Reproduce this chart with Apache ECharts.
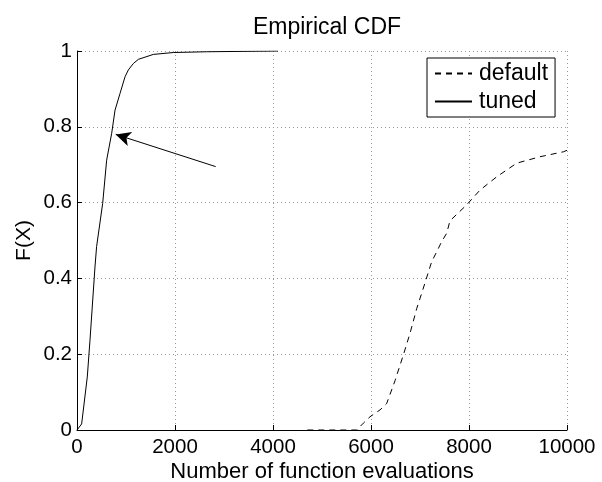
<!DOCTYPE html>
<html>
<head>
<meta charset="utf-8">
<script src="https://cdn.jsdelivr.net/npm/echarts@6/dist/echarts.min.js"></script>
<style>html,body{margin:0;padding:0;background:#fff}#c{width:602px;height:482px}</style>
</head>
<body>
<div id="c"></div>
<script>
var titleText = 'Empirical CDF';
var xName = 'Number of function evaluations';
var yName = 'F(X)';
var seriesNames = ['default', 'tuned'];
var xTicks = [0, 2000, 4000, 6000, 8000, 10000];
var yTicks = [0, 0.2, 0.4, 0.6, 0.8, 1];

var xTuned = [0, 95, 210, 265, 367, 400, 524, 605, 708, 776, 878, 980, 1048, 1150, 1252, 1558, 1966, 2640, 4100];
var yTuned = [0, 0.016, 0.14, 0.237, 0.43, 0.484, 0.598, 0.712, 0.783, 0.844, 0.888, 0.932, 0.95, 0.967, 0.978, 0.991, 0.996, 0.998, 1.0];

var xDefault = [4700, 5707, 5844, 5980, 6184, 6320, 6490, 6660, 6796, 6932, 7082, 7238, 7340, 7442, 7544, 7612, 7782, 7952, 8224, 8565, 8973, 9449, 9925, 10000];
var yDefault = [0, 0, 0.018, 0.035, 0.053, 0.07, 0.13, 0.198, 0.255, 0.32, 0.38, 0.444, 0.47, 0.497, 0.519, 0.552, 0.573, 0.594, 0.633, 0.668, 0.704, 0.721, 0.734, 0.738];

var arrowFrom = [2830, 0.695];
var arrowTo = [790, 0.78];

function zip(a, b) { return a.map(function (v, i) { return [v, b[i]]; }); }

var FONT = 'Liberation Sans, Arial, Helvetica, sans-serif';

var chart = echarts.init(document.getElementById('c'), null, {renderer: 'canvas'});
chart.setOption({
  animation: false,
  backgroundColor: '#fff',
  title: {
    text: titleText,
    left: 322, top: 11, textAlign: 'center',
    textStyle: {fontFamily: FONT, fontSize: 23, fontWeight: 'normal', color: '#000'}
  },
  legend: {
    orient: 'vertical',
    left: 427, top: 58,
    padding: [4, 7, 4, 7],
    itemGap: 5,
    itemWidth: 37,
    itemHeight: 23,
    borderColor: '#000', borderWidth: 1,
    backgroundColor: '#fff',
    itemStyle: {opacity: 0},
    textStyle: {fontFamily: FONT, fontSize: 23, color: '#000', padding: [0, 0, 0, 2]},
    data: seriesNames
  },
  grid: {left: 77, right: 35, top: 51, bottom: 52, containLabel: false, outerBoundsMode: 'none'},
  xAxis: {
    type: 'value', min: 0, max: 10000, interval: 2000,
    name: xName, nameLocation: 'middle', nameGap: 31, nameMoveOverlap: false,
    nameTextStyle: {fontFamily: FONT, fontSize: 22, color: '#000'},
    axisLine: {show: true, onZero: false, lineStyle: {color: '#000', width: 1}},
    axisTick: {show: true, inside: true, length: 5, lineStyle: {color: '#000'}},
    axisLabel: {fontFamily: FONT, fontSize: 20.5, color: '#000', margin: 7,
      formatter: function (v) { return xTicks.indexOf(v) >= 0 ? String(v) : ''; }},
    splitLine: {show: true, lineStyle: {color: '#999', type: [1, 3], width: 1}}
  },
  yAxis: {
    type: 'value', min: 0, max: 1, interval: 0.2,
    name: yName, nameLocation: 'middle', nameGap: 42, nameMoveOverlap: false,
    nameTextStyle: {fontFamily: FONT, fontSize: 21, color: '#000'},
    axisLine: {show: true, onZero: false, lineStyle: {color: '#000', width: 1}},
    axisTick: {show: true, inside: true, length: 5, lineStyle: {color: '#000'}},
    axisLabel: {fontFamily: FONT, fontSize: 20.5, color: '#000', margin: 5,
      formatter: function (v) {
        for (var i = 0; i < yTicks.length; i++) { if (Math.abs(yTicks[i] - v) < 1e-9) return String(yTicks[i]); }
        return '';
      }},
    splitLine: {show: true, lineStyle: {color: '#999', type: [1, 3], width: 1}}
  },
  series: [
    {
      name: seriesNames[0], type: 'line', symbol: 'none', showSymbol: false,
      lineStyle: {color: '#000', width: 1, type: [6, 5]},
      itemStyle: {color: '#000'},
      data: zip(xDefault, yDefault)
    },
    {
      name: seriesNames[1], type: 'line', symbol: 'none', showSymbol: false,
      lineStyle: {color: '#000', width: 1, type: 'solid'},
      itemStyle: {color: '#000'},
      data: zip(xTuned, yTuned),
      markLine: {
        silent: true,
        symbol: ['none', 'arrow'],
        symbolSize: [11, 15],
        label: {show: false},
        lineStyle: {color: '#000', width: 1, type: 'solid'},
        data: [[{coord: arrowFrom}, {coord: arrowTo}]]
      }
    }
  ]
});
</script>
</body>
</html>
